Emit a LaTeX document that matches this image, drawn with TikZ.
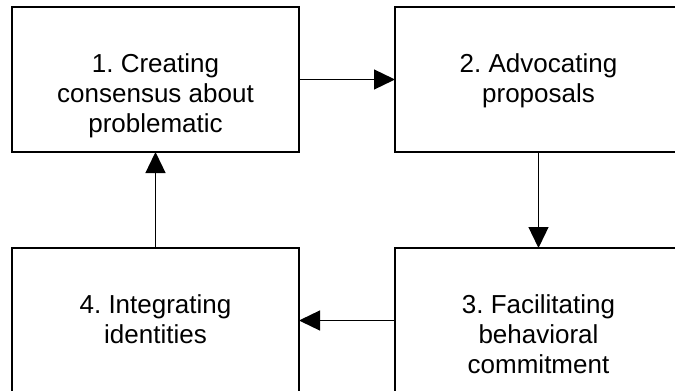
\documentclass[tikz,border=0pt]{standalone}
\usepackage{fontspec}
\setmainfont{Liberation Sans}
\usetikzlibrary{positioning,arrows.meta}
\frenchspacing
\tikzset{
  box/.style={draw, line width=1.3pt, minimum width=287pt, minimum height=145pt, inner sep=0pt, outer sep=0pt},
  lbl/.style={align=center, inner sep=0pt, font=\fontsize{26}{30}\selectfont},
}
\begin{document}
\begin{tikzpicture}[x=1pt, y=1pt, >={Triangle[length=21pt,width=20pt]}]
\useasboundingbox (0,0) rectangle (675,-391);
\clip (0,0) rectangle (675,-391);
% the four boxes
\node[box] (b1) at (155.5,-79.5) {};
\node[box, right=96pt of b1] (b2) {};
\node[box, below=96pt of b1] (b4) {};
\node[box, right=96pt of b4] (b3) {};
% texts, set near the top of each box
\node[lbl, below=46pt of b1.north] (t1) {1. Creating\\consensus about\\problematic};
\node[lbl, below=46pt of b2.north] (t2) {2. Advocating\\proposals};
\node[lbl, below=46pt of b3.north] (t3) {3. Facilitating\\behavioral\\commitment};
\node[lbl, below=46pt of b4.north] (t4) {4. Integrating\\identities};
% the cycle
\draw[->, line width=1.3pt] (b1) -- (b2);
\draw[->, line width=1.3pt] (b2) -- (b3);
\draw[->, line width=1.3pt] (b3) -- (b4);
\draw[->, line width=1.3pt] (b4) -- (b1);
\end{tikzpicture}
\end{document}
